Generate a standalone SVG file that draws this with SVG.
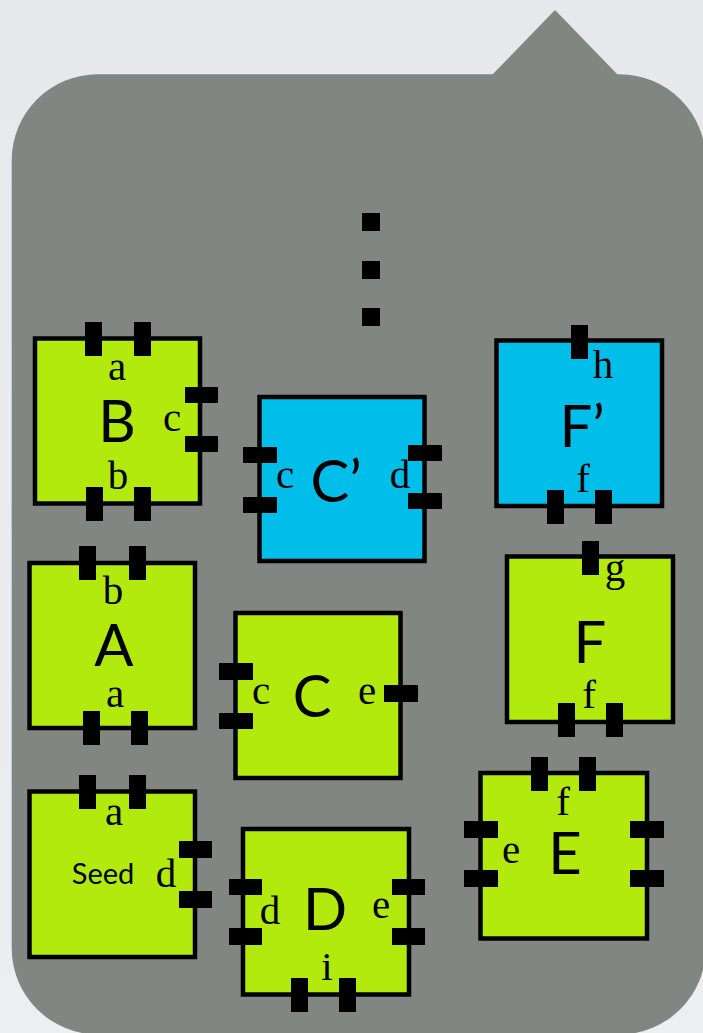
<svg xmlns="http://www.w3.org/2000/svg" width="703" height="1033" viewBox="0 0 703 1033">
<defs>
<linearGradient id="bg" x1="0" y1="0" x2="0" y2="1">
<stop offset="0" stop-color="#e6e8eb"/>
<stop offset="1" stop-color="#eceef1"/>
</linearGradient>
</defs>
<style>
.g{fill:#b2ea0d;stroke:#000;stroke-width:4.5}
.b{fill:#00bde9;stroke:#000;stroke-width:4.5}
.t{fill:#000}
.s{font-family:"Liberation Serif","Times New Roman",serif;font-size:41px;fill:#000;text-anchor:middle}
.L{font-family:"Lato","Liberation Sans",sans-serif;font-size:58px;fill:#000;text-anchor:middle}
.seed{font-family:"Lato","Liberation Sans",sans-serif;font-size:29px;fill:#000;text-anchor:middle}
</style>
<rect x="0" y="0" width="703" height="1033" fill="url(#bg)"/>
<g id="bubble">
<rect x="11.7" y="74.3" width="694" height="960" rx="86" ry="86" fill="#818683"/>
<polygon points="492,75 555,10 618,75" fill="#818683"/>
</g>
<g id="ellipsis">
<rect class="t" x="362" y="213" width="18" height="18"/>
<rect class="t" x="362" y="261" width="18" height="18"/>
<rect class="t" x="362" y="308" width="18" height="18"/>
</g>
<g id="connectors"></g>
<g id="B">
<rect class="g" x="35" y="338.5" width="165" height="165"/>
<rect class="t" x="85" y="322" width="17" height="34"/>
<rect class="t" x="134" y="322" width="17" height="34"/>
<rect class="t" x="86" y="487" width="17" height="34"/>
<rect class="t" x="134" y="487" width="17" height="34"/>
<rect class="t" x="185" y="387" width="33" height="16"/>
<rect class="t" x="185" y="436" width="33" height="16"/>
<text class="s" x="117" y="380">a</text>
<text class="L" x="117" y="442">B</text>
<text class="s" x="172" y="431">c</text>
<text class="s" x="118" y="489">b</text>
</g>
<g id="Cprime">
<rect class="b" x="259.5" y="397" width="165" height="164"/>
<rect class="t" x="243" y="447" width="34" height="16"/>
<rect class="t" x="243" y="497" width="34" height="16"/>
<rect class="t" x="408" y="445" width="34" height="16"/>
<rect class="t" x="408" y="493" width="34" height="16"/>
<text class="s" x="285" y="488">c</text>
<text class="L" x="336" y="502">C’</text>
<text class="s" x="400" y="488">d</text>
</g>
<g id="Fprime">
<rect class="b" x="496.5" y="340.5" width="165.5" height="165.5"/>
<rect class="t" x="571" y="325" width="17" height="34"/>
<rect class="t" x="547" y="490" width="17" height="34"/>
<rect class="t" x="595" y="490" width="17" height="34"/>
<text class="s" x="603" y="378">h</text>
<text class="L" x="582" y="447">F’</text>
<text class="s" x="583" y="492">f</text>
</g>
<g id="F">
<rect class="g" x="507" y="556.5" width="166" height="165.5"/>
<rect class="t" x="582" y="541" width="17" height="34"/>
<rect class="t" x="558" y="703" width="17" height="34"/>
<rect class="t" x="606" y="703" width="17" height="34"/>
<text class="s" x="615" y="581">g</text>
<text class="L" x="590" y="663">F</text>
<text class="s" x="589" y="708">f</text>
</g>
<g id="A">
<rect class="g" x="29.5" y="563" width="165.5" height="165"/>
<rect class="t" x="79" y="546" width="17" height="34"/>
<rect class="t" x="129" y="546" width="17" height="34"/>
<rect class="t" x="83" y="711" width="17" height="34"/>
<rect class="t" x="131" y="711" width="17" height="34"/>
<text class="s" x="113" y="604">b</text>
<text class="L" x="114" y="666">A</text>
<text class="s" x="115" y="707">a</text>
</g>
<g id="C">
<rect class="g" x="235.5" y="613" width="165" height="165"/>
<rect class="t" x="219" y="663" width="34" height="17"/>
<rect class="t" x="219" y="713" width="34" height="16"/>
<rect class="t" x="384" y="685" width="34" height="17"/>
<text class="s" x="261" y="704">c</text>
<text class="L" x="312" y="717">C</text>
<text class="s" x="367" y="704">e</text>
</g>
<g id="Seed">
<rect class="g" x="29.5" y="791.5" width="165.5" height="165.5"/>
<rect class="t" x="79" y="775" width="17" height="34"/>
<rect class="t" x="129" y="775" width="17" height="34"/>
<rect class="t" x="179" y="841" width="33" height="17"/>
<rect class="t" x="179" y="891" width="33" height="17"/>
<text class="s" x="114" y="825">a</text>
<text class="seed" x="103" y="884">Seed</text>
<text class="s" x="166" y="887">d</text>
</g>
<g id="D">
<rect class="g" x="243" y="829" width="166" height="165.5"/>
<rect class="t" x="229" y="879" width="33" height="16"/>
<rect class="t" x="229" y="928" width="33" height="17"/>
<rect class="t" x="392" y="879" width="33" height="16"/>
<rect class="t" x="392" y="928" width="33" height="17"/>
<rect class="t" x="291" y="978" width="17" height="34"/>
<rect class="t" x="339" y="978" width="17" height="34"/>
<text class="s" x="270" y="924">d</text>
<text class="L" x="325" y="930">D</text>
<text class="s" x="381" y="918">e</text>
<text class="s" x="327" y="980">i</text>
</g>
<g id="E">
<rect class="g" x="480.5" y="773" width="166.5" height="165.5"/>
<rect class="t" x="531" y="757" width="17" height="34"/>
<rect class="t" x="579" y="757" width="17" height="34"/>
<rect class="t" x="464" y="821" width="34" height="17"/>
<rect class="t" x="464" y="870" width="34" height="17"/>
<rect class="t" x="630" y="821" width="34" height="17"/>
<rect class="t" x="630" y="870" width="34" height="17"/>
<text class="s" x="563" y="815">f</text>
<text class="L" x="565" y="874">E</text>
<text class="s" x="511" y="863">e</text>
</g>
</svg>
